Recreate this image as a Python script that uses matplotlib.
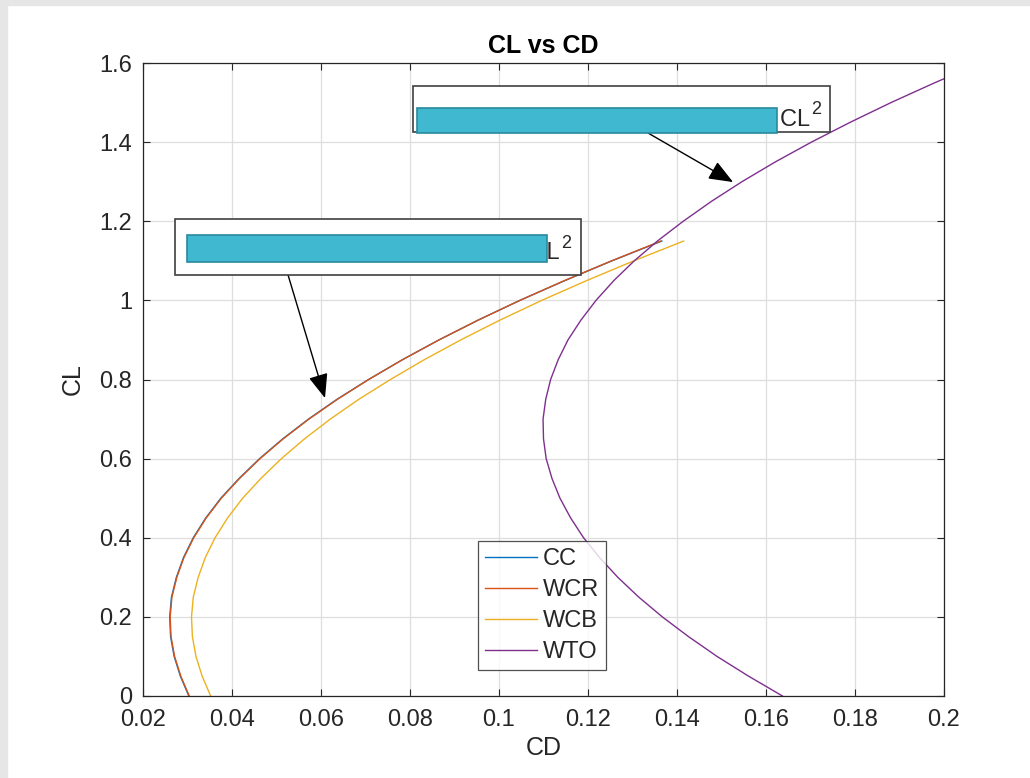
import matplotlib
matplotlib.use("Agg")
import matplotlib.pyplot as plt
from matplotlib.patches import Rectangle

plt.rcParams['font.family'] = ['Liberation Sans', 'DejaVu Sans']

# lift coefficient samples
cl_cruise = [0.00, 0.05, 0.10, 0.15, 0.20, 0.25, 0.30, 0.35, 0.40, 0.45, 0.50, 0.55,
             0.60, 0.65, 0.70, 0.75, 0.80, 0.85, 0.90, 0.95, 1.00, 1.05, 1.10, 1.15]
cd_cc = [0.0303, 0.0284, 0.0270, 0.0262, 0.0260, 0.0264, 0.0275, 0.0291, 0.0313, 0.0341,
         0.0375, 0.0416, 0.0462, 0.0514, 0.0572, 0.0636, 0.0707, 0.0783, 0.0865, 0.0953,
         0.1047, 0.1148, 0.1254, 0.1366]
cd_wcr = [0.0304, 0.0285, 0.0271, 0.0263, 0.0261, 0.0265, 0.0276, 0.0292, 0.0314, 0.0342,
          0.0376, 0.0417, 0.0463, 0.0515, 0.0573, 0.0637, 0.0707, 0.0783, 0.0865, 0.0953,
          0.1047, 0.1147, 0.1253, 0.1364]
cd_wcb = [0.0352, 0.0333, 0.0319, 0.0311, 0.0309, 0.0313, 0.0324, 0.0340, 0.0362, 0.0390,
          0.0424, 0.0465, 0.0511, 0.0563, 0.0621, 0.0685, 0.0756, 0.0832, 0.0914, 0.1002,
          0.1096, 0.1197, 0.1303, 0.1415]

cl_takeoff = [0.00, 0.05, 0.10, 0.15, 0.20, 0.25, 0.30, 0.35, 0.40, 0.45, 0.50, 0.55,
              0.60, 0.65, 0.70, 0.75, 0.80, 0.85, 0.90, 0.95, 1.00, 1.05, 1.10, 1.15,
              1.20, 1.25, 1.30, 1.35, 1.40, 1.45, 1.50, 1.55, 1.60]
cd_wto = [0.1637, 0.1561, 0.1490, 0.1426, 0.1367, 0.1314, 0.1267, 0.1226, 0.1190, 0.1161,
          0.1137, 0.1119, 0.1106, 0.1100, 0.1099, 0.1105, 0.1116, 0.1133, 0.1155, 0.1184,
          0.1218, 0.1258, 0.1304, 0.1356, 0.1414, 0.1477, 0.1546, 0.1621, 0.1702, 0.1789,
          0.1881, 0.1979, 0.2083]

series_names = ["CC", "WCR", "WCB", "WTO"]
series_colors = ["#0072BD", "#D95319", "#EDB120", "#7E2F8E"]

x_ticks = [0.02, 0.04, 0.06, 0.08, 0.1, 0.12, 0.14, 0.16, 0.18, 0.2]
x_tick_labels = ["0.02", "0.04", "0.06", "0.08", "0.1", "0.12", "0.14", "0.16", "0.18", "0.2"]
y_ticks = [0, 0.2, 0.4, 0.6, 0.8, 1.0, 1.2, 1.4, 1.6]
y_tick_labels = ["0", "0.2", "0.4", "0.6", "0.8", "1", "1.2", "1.4", "1.6"]

txt_color = "#262626"

fig = plt.figure(figsize=(10.30, 7.78), dpi=100)
fig.patches.append(Rectangle((0, 0), 7 / 1030, 1, transform=fig.transFigure,
                             color="#e6e6e6", zorder=-10))
fig.patches.append(Rectangle((0, 1 - 5 / 778), 1, 5 / 778, transform=fig.transFigure,
                             color="#e6e6e6", zorder=-10))
ax = fig.add_axes([143 / 1030, 1 - 696 / 778, 801 / 1030, 633 / 778])

curves = [(cl_cruise, cd_cc), (cl_cruise, cd_wcr), (cl_cruise, cd_wcb), (cl_takeoff, cd_wto)]
for (cl, cd), name, col in zip(curves, series_names, series_colors):
    ax.plot(cd, cl, color=col, lw=1.0, label=name)

ax.set_xlim(0.02, 0.2)
ax.set_ylim(0, 1.6)
ax.set_xticks(x_ticks)
ax.set_xticklabels(x_tick_labels)
ax.set_yticks(y_ticks)
ax.set_yticklabels(y_tick_labels)
ax.grid(True, color="#dedede", lw=0.9)
ax.set_axisbelow(True)
ax.tick_params(direction="in", length=5, width=0.8, colors=txt_color, labelsize=17,
               top=True, right=True)
ax.tick_params(axis="x", pad=9)
ax.tick_params(axis="y", pad=8)
for s in ax.spines.values():
    s.set_color(txt_color)
    s.set_linewidth(0.9)

ax.set_title("CL vs CD", fontsize=18, fontweight="bold", color="black", pad=7)
ax.set_xlabel("CD", fontsize=18, color=txt_color, labelpad=4)
ax.set_ylabel("CL", fontsize=18, color=txt_color, labelpad=10)

leg = ax.legend(loc="lower left", bbox_to_anchor=(0.418, 0.041), borderaxespad=0,
                fontsize=17, frameon=True, fancybox=False, handlelength=2.2,
                handletextpad=0.25, labelspacing=0.38, borderpad=0.3)
leg.get_frame().set_edgecolor(txt_color)
leg.get_frame().set_linewidth(0.9)
for t in leg.get_texts():
    t.set_color(txt_color)

# annotation boxes (text partly hidden by cyan bars, as in the original)
notes = [
    dict(box=(0.0807, 1.426, 0.0937, 0.116), bar=(0.0816, 1.423, 0.0809, 0.063),
         text_xy=(0.1699, 1.442), text="CD = 0.164 − 0.158 CL + 0.116 CL",
         tail=(0.1335, 1.423), head=(0.1526, 1.299)),
    dict(box=(0.0272, 1.064, 0.0912, 0.141), bar=(0.0298, 1.098, 0.0809, 0.066),
         text_xy=(0.1137, 1.104), text="CD = 0.030 − 0.046 CL + 0.12 CL",
         tail=(0.0526, 1.064), head=(0.0609, 0.753)),
]
for n in notes:
    bx, by, bw, bh = n["box"]
    ax.add_patch(Rectangle((bx, by), bw, bh, facecolor="white", edgecolor="#404040",
                           lw=1.2, zorder=5))
    ax.text(n["text_xy"][0], n["text_xy"][1], n["text"], ha="right", va="baseline",
            fontsize=17, color=txt_color, zorder=6)
    # superscript 2
    ax.annotate("2", xy=n["text_xy"], xytext=(1, 8), textcoords="offset points",
                ha="left", va="baseline", fontsize=13, color=txt_color, zorder=6)
    rx, ry, rw, rh = n["bar"]
    ax.add_patch(Rectangle((rx, ry), rw, rh, facecolor="#40b8d0", edgecolor="#2a8a9e",
                           lw=1.2, zorder=7))
    ax.annotate("", xy=n["head"], xytext=n["tail"], zorder=4,
                arrowprops=dict(arrowstyle="-|>,head_length=0.75,head_width=0.3",
                                mutation_scale=20, color="black", lw=1.0,
                                shrinkA=0, shrinkB=0))

fig.savefig("out.png", dpi=100, facecolor="white")
